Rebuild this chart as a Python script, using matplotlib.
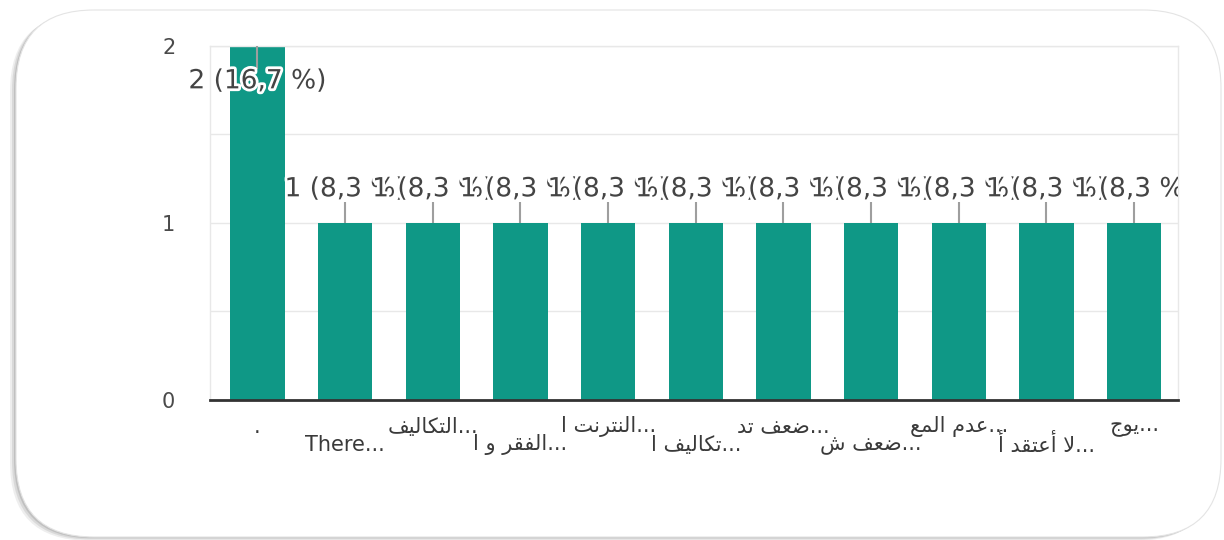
import matplotlib
matplotlib.use('Agg')
import matplotlib.pyplot as plt
import matplotlib.patheffects as pe
from matplotlib.patches import FancyBboxPatch, Rectangle
from matplotlib.transforms import IdentityTransform

# answers as typed in the form (already truncated by the form)
categories = ['.', 'There...', 'التكاليف...', 'الفقر و ا...', 'النترنت ا...',
              'تكاليف ا...', 'ضعف تد...', 'ضعف ش...', 'عدم المع...',
              'لا أعتقد أ...', 'يوج...']
counts = [2, 1, 1, 1, 1, 1, 1, 1, 1, 1, 1]
y_ticks = [0, 1, 2]

BAR_COLOR = '#0f9886'

# presentation forms: isolated, final, initial, medial (None = no left join)
FORMS = {
    'ا': ('\uFE8D', '\uFE8E', None, None),
    'أ': ('\uFE83', '\uFE84', None, None),
    'ت': ('\uFE95', '\uFE96', '\uFE97', '\uFE98'),
    'ج': ('\uFE9D', '\uFE9E', '\uFE9F', '\uFEA0'),
    'د': ('\uFEA9', '\uFEAA', None, None),
    'ر': ('\uFEAD', '\uFEAE', None, None),
    'ش': ('\uFEB5', '\uFEB6', '\uFEB7', '\uFEB8'),
    'ض': ('\uFEBD', '\uFEBE', '\uFEBF', '\uFEC0'),
    'ع': ('\uFEC9', '\uFECA', '\uFECB', '\uFECC'),
    'ف': ('\uFED1', '\uFED2', '\uFED3', '\uFED4'),
    'ق': ('\uFED5', '\uFED6', '\uFED7', '\uFED8'),
    'ك': ('\uFED9', '\uFEDA', '\uFEDB', '\uFEDC'),
    'ل': ('\uFEDD', '\uFEDE', '\uFEDF', '\uFEE0'),
    'م': ('\uFEE1', '\uFEE2', '\uFEE3', '\uFEE4'),
    'ن': ('\uFEE5', '\uFEE6', '\uFEE7', '\uFEE8'),
    'و': ('\uFEED', '\uFEEE', None, None),
    'ي': ('\uFEF1', '\uFEF2', '\uFEF3', '\uFEF4'),
}
LAM_ALEF = {'ا': ('\uFEFB', '\uFEFC'), 'أ': ('\uFEF7', '\uFEF8')}


def shape(word):
    """Very small Arabic shaper: joining forms + lam-alef, logical order"""
    out = []
    i = 0
    while i < len(word):
        c = word[i]
        if c not in FORMS:
            out.append(c)
            i += 1
            continue
        prev = word[i - 1] if i > 0 else ''
        prev_joins = prev in FORMS and FORMS[prev][2] is not None
        nxt = word[i + 1] if i + 1 < len(word) else ''
        if c == 'ل' and nxt in LAM_ALEF:
            out.append(LAM_ALEF[nxt][1] if prev_joins else LAM_ALEF[nxt][0])
            i += 2
            continue
        iso, fin, ini, med = FORMS[c]
        next_joins = ini is not None and nxt in FORMS
        if prev_joins and next_joins:
            out.append(med)
        elif prev_joins:
            out.append(fin)
        elif next_joins:
            out.append(ini)
        else:
            out.append(iso)
        i += 1
    return ''.join(out)


def visual(label):
    """RTL run inside a left-to-right line: word reversed, dots stay on the right"""
    if not any(ch in FORMS for ch in label):
        return label
    core = label[:-3] if label.endswith('...') else label
    tail = '...' if label.endswith('...') else ''
    return shape(core)[::-1] + tail


fig = plt.figure(figsize=(12.24, 5.4), dpi=100)

# card with a soft shadow on the left / bottom
for k, a in enumerate([0.10, 0.14, 0.20]):
    off = 6 - 2 * k
    sh = FancyBboxPatch((16 - off, 3 - off * 0.6), 1205, 527,
                        boxstyle='round,pad=0,rounding_size=78',
                        transform=IdentityTransform(), fc='#606060',
                        ec='none', alpha=a, zorder=-3)
    fig.add_artist(sh)
card = FancyBboxPatch((16, 3), 1205, 527, boxstyle='round,pad=0,rounding_size=78',
                      transform=IdentityTransform(), fc='white', ec='#e4e4e4',
                      lw=0.8, zorder=-2)
fig.add_artist(card)

ax = fig.add_axes([0.1716, 0.2593, 0.7908, 0.6556])
ax.patch.set_alpha(0)

x = list(range(len(categories)))
ax.bar(x, counts, width=0.62, color=BAR_COLOR, zorder=2)

ax.set_xlim(-0.54, len(categories) - 0.5)
ax.set_ylim(0, max(y_ticks))
ax.set_yticks(y_ticks)
ax.set_yticks([0.5, 1.5], minor=True)
ax.set_xticks([])
ax.grid(axis='y', which='both', color='#e8e8e8', lw=1, zorder=0)
ax.set_axisbelow(True)
ax.tick_params(axis='y', which='both', length=0, pad=25, labelsize=15,
               labelcolor='#4a4a4a')

for side in ['left', 'right', 'top']:
    ax.spines[side].set_color('#e8e8e8')
    ax.spines[side].set_linewidth(1)
ax.spines['bottom'].set_color('#333333')
ax.spines['bottom'].set_linewidth(2)
ax.spines['bottom'].set_zorder(3)

# labels may spill out to the left but get cut at the right edge
label_clip = Rectangle((-0.2, -0.1), 1.2, 1.3, transform=ax.transAxes)

# value labels with leader lines
total = sum(counts)
ymax = max(y_ticks)
halo = [pe.withStroke(linewidth=4, foreground='white')]
for i, v in enumerate(counts):
    txt = f'{v} ({v / total * 100:.1f} %)'.replace('.', ',')
    if v >= ymax:
        ax.vlines(i, v - 0.13, v, color='#9e9e9e', lw=1.5, zorder=3)
        ty = v - 0.2
    else:
        ax.vlines(i, v, v + 0.12, color='#9e9e9e', lw=1.5, zorder=3)
        ty = v + 0.19
    t = ax.text(i, ty, txt, ha='center', va='center', fontsize=19,
                color='#444444', path_effects=halo, zorder=4 + i, clip_on=True)
    t.set_clip_path(label_clip)

# category labels on two staggered rows
for i, lab in enumerate(categories):
    row_y = -0.076 if i % 2 == 0 else -0.127
    ax.text(i, row_y, visual(lab), transform=ax.get_xaxis_transform(),
            ha='center', va='center', fontsize=15, color='#3a3a3a',
            family=['DejaVu Sans'])

fig.savefig('out.png', dpi=100)
